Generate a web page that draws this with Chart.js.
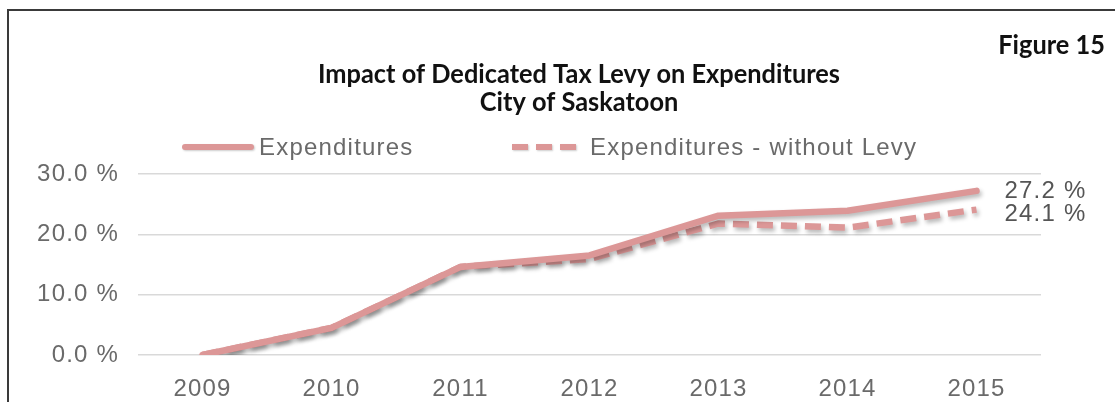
<!DOCTYPE html>
<html>
<head>
<meta charset="utf-8">
<script src="https://cdn.jsdelivr.net/npm/chart.js@4.4.0/dist/chart.umd.min.js"></script>
<style>
    html, body { margin: 0; padding: 0; background: #fff; }
    #wrap { position: relative; width: 1115px; height: 402px; overflow: hidden; }
    #frame { position: absolute; left: 7px; top: 9px; width: 1200px; height: 500px; border: 2px solid #3a3a3a; box-sizing: border-box; }
    #chart { position: absolute; left: 0; top: 0; }
</style>
</head>
<body>
<div id="wrap">
    <div id="frame"></div>
    <canvas id="chart" width="1115" height="402"></canvas>
</div>
<script>
// Chart data
const years = ['2009', '2010', '2011', '2012', '2013', '2014', '2015'];
const expenditures = [0, 4.5, 14.6, 16.5, 23.1, 23.9, 27.2];
const withoutLevy = [0, 4.5, 14.6, 15.9, 21.8, 21.1, 24.1];
const yTicks = [0, 10, 20, 30];

const seriesNames = ['Expenditures', 'Expenditures - without Levy'];
const titleLines = ['Impact of Dedicated Tax Levy on Expenditures', 'City of Saskatoon'];
const figureLabel = 'Figure 15';

const lineColor = '#dc9797';
const tickColor = '#6a6a6a';
const fontFamily = '"Liberation Sans", Arial, sans-serif';
const tickFont = '24px ' + fontFamily;
const spacing = '1.2px';

// shadow under the lines
function setShadow(ctx) {
    ctx.shadowColor = 'rgba(0,0,0,0.28)';
    ctx.shadowBlur = 4;
    ctx.shadowOffsetX = 2;
    ctx.shadowOffsetY = 3;
}

const decorPlugin = {
    id: 'decor',
    beforeDraw(chart) {
        chart.ctx.letterSpacing = spacing;
    },
    beforeDatasetsDraw(chart) {
        chart.ctx.save();
        setShadow(chart.ctx);
    },
    afterDatasetsDraw(chart) {
        chart.ctx.restore();
    },
    afterDraw(chart) {
        const ctx = chart.ctx;

        // title, humanist bold squeezed to width
        ctx.save();
        ctx.letterSpacing = '0px';
        ctx.fillStyle = '#111';
        ctx.textAlign = 'center';
        ctx.textBaseline = 'alphabetic';
        ctx.font = 'bold 27px Lato, "Open Sans", sans-serif';
        const w0 = ctx.measureText(titleLines[0]).width;
        const sx = 522 / w0;
        [[titleLines[0], 83], [titleLines[1], 111]].forEach(function(t) {
            ctx.save();
            ctx.translate(579, t[1]);
            ctx.scale(sx, 1);
            ctx.fillText(t[0], 0, 0);
            ctx.restore();
        });
        ctx.textAlign = 'right';
        ctx.save();
        ctx.translate(1105, 54);
        ctx.scale(sx, 1);
        ctx.fillText(figureLabel, 0, 0);
        ctx.restore();
        ctx.restore();

        // legend
        ctx.save();
        ctx.letterSpacing = spacing;
        ctx.font = tickFont;
        ctx.fillStyle = tickColor;
        ctx.textBaseline = 'middle';
        ctx.textAlign = 'left';
        const legendY = 147;
        const items = [
            { x0: 185, x1: 251, tx: 259, dash: [], cap: 'round' },
            { x0: 512, x1: 578, tx: 590, dash: [16, 8], cap: 'butt' }
        ];
        items.forEach(function(it, i) {
            ctx.save();
            ctx.shadowBlur = 2;
            ctx.shadowOffsetX = 1;
            ctx.shadowOffsetY = 1;
            ctx.shadowColor = 'rgba(0,0,0,0.2)';
            ctx.strokeStyle = lineColor;
            ctx.lineWidth = 6;
            ctx.lineCap = it.cap;
            ctx.setLineDash(it.dash);
            ctx.beginPath();
            ctx.moveTo(it.x0, legendY);
            ctx.lineTo(it.x1, legendY);
            ctx.stroke();
            ctx.restore();
            ctx.fillText(seriesNames[i], it.tx, legendY + 1);
        });

        // end labels
        ctx.fillStyle = '#555';
        const offsets = [0, 5];
        [expenditures, withoutLevy].forEach(function(arr, i) {
            const meta = chart.getDatasetMeta(i);
            const pt = meta.data[arr.length - 1];
            ctx.fillText(arr[arr.length - 1].toFixed(1) + ' %', pt.x + 28, pt.y + offsets[i]);
        });
        ctx.restore();
    }
};

const ctx = document.getElementById('chart').getContext('2d');
const chart = new Chart(ctx, {
    type: 'line',
    data: {
        labels: years,
        datasets: [{
            label: seriesNames[0],
            data: expenditures,
            borderColor: lineColor,
            borderWidth: 6.5,
            borderCapStyle: 'round',
            borderJoinStyle: 'round',
            pointRadius: 0,
            tension: 0,
            fill: false
        },
        {
            label: seriesNames[1],
            data: withoutLevy,
            borderColor: lineColor,
            borderWidth: 6.5,
            borderDash: [16, 8],
            borderCapStyle: 'butt',
            pointRadius: 0,
            tension: 0,
            fill: false
        }]
    },
    options: {
        responsive: false,
        animation: false,
        events: [],
        layout: {
            padding: { top: 174, right: 74, left: 0, bottom: 0 }
        },
        plugins: {
            legend: { display: false },
            title: { display: false },
            tooltip: { enabled: false }
        },
        scales: {
            x: {
                offset: true,
                grid: { display: false },
                border: { display: false },
                ticks: { color: tickColor, font: { size: 24, family: fontFamily }, padding: 12, maxRotation: 0 },
                afterFit: function(s) { s.height = 47; }
            },
            y: {
                min: 0,
                max: 30,
                afterBuildTicks: function(s) { s.ticks = yTicks.map(function(v) { return { value: v }; }); },
                grid: { color: '#d9d9d9', lineWidth: 1.5, drawTicks: false },
                border: { display: false },
                ticks: {
                    color: tickColor,
                    font: { size: 24, family: fontFamily },
                    padding: 19,
                    callback: function(v) { return v.toFixed(1) + ' %'; }
                },
                afterFit: function(s) { s.width = 138; }
            }
        }
    },
    plugins: [decorPlugin]
});
</script>
</body>
</html>
